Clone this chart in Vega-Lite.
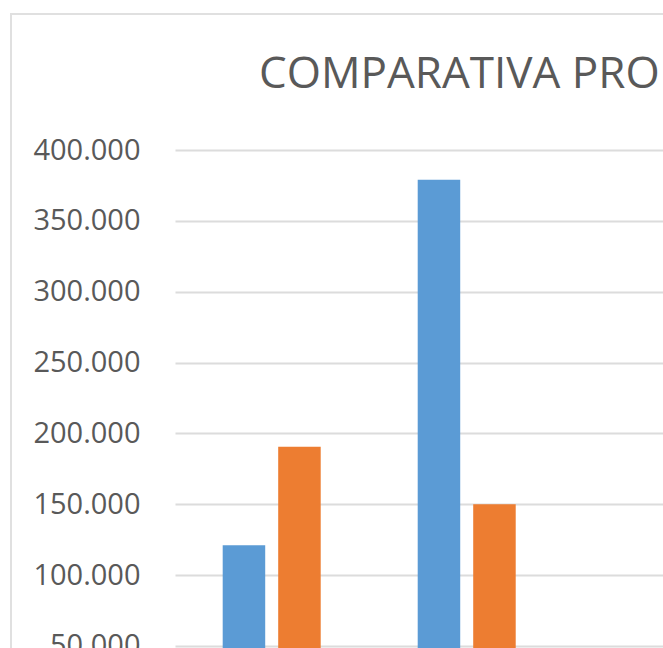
{
  "$schema": "https://vega.github.io/schema/vega-lite/v6.json",
  "autosize": "none",
  "width": 660,
  "height": 650,
  "padding": {"left": 11, "top": 14, "right": -8, "bottom": -16},
  "background": "white",
  "title": {
    "text": "COMPARATIVA PRO",
    "anchor": "start",
    "frame": "group",
    "font": "Open Sans",
    "fontSize": 44,
    "fontWeight": 400,
    "color": "#595959",
    "baseline": "alphabetic",
    "offset": 0,
    "dx": 248,
    "dy": 118
  },
  "data": {
    "values": [
      {"categoria": "Categoría 1", "serie": "Serie 1", "valor": 121000},
      {"categoria": "Categoría 1", "serie": "Serie 2", "valor": 190500},
      {"categoria": "Categoría 2", "serie": "Serie 1", "valor": 379000},
      {"categoria": "Categoría 2", "serie": "Serie 2", "valor": 150000}
    ]
  },
  "mark": {"type": "bar"},
  "encoding": {
    "x": {
      "field": "categoria",
      "type": "nominal",
      "axis": null,
      "scale": {
        "domain": ["Categoría 1", "Categoría 2"],
        "range": [164, 700],
        "paddingInner": 0.4974,
        "paddingOuter": 0.623,
        "align": 0.1963,
        "round": false
      }
    },
    "xOffset": {
      "field": "serie",
      "type": "nominal",
      "scale": {"paddingInner": 0.234, "paddingOuter": 0}
    },
    "y": {
      "field": "valor",
      "type": "quantitative",
      "scale": {"domain": [0, 400000], "range": [702.7, 136], "nice": false, "zero": true},
      "axis": {
        "orient": "left",
        "offset": -164,
        "values": [0, 50000, 100000, 150000, 200000, 250000, 300000, 350000, 400000],
        "format": ",d",
        "title": null,
        "domain": false,
        "ticks": false,
        "tickSize": 0,
        "labelPadding": 35,
        "labelFont": "Open Sans",
        "labelFontSize": 29,
        "labelColor": "#595959",
        "labelBaseline": "middle",
        "grid": true,
        "gridColor": "#DCDCDC",
        "gridWidth": 2
      }
    },
    "color": {
      "field": "serie",
      "type": "nominal",
      "scale": {"domain": ["Serie 1", "Serie 2"], "range": ["#5B9BD5", "#ED7D31"]},
      "legend": null
    }
  },
  "config": {
    "locale": {"number": {"decimal": ",", "thousands": ".", "grouping": [3], "currency": ["", " €"]}},
    "view": {"stroke": "#E0E0E0", "strokeWidth": 2}
  }
}
